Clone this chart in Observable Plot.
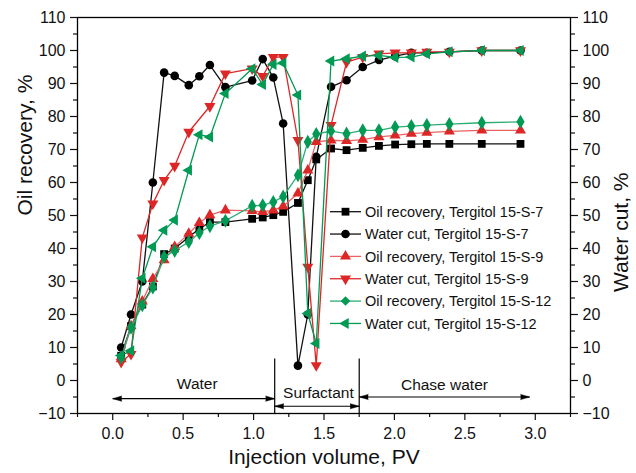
<!DOCTYPE html>
<html><head><meta charset="utf-8">
<script src="https://cdn.jsdelivr.net/npm/d3@7"></script>
<script src="https://cdn.jsdelivr.net/npm/@observablehq/plot@0.6"></script>
<style>
body{margin:0;background:#fff;}
#wrap{position:relative;width:636px;height:473px;overflow:hidden;}
#wrap svg{position:absolute;left:0;top:0;}
</style></head><body><div id="wrap"></div>
<script>
// Injection volume (PV) at which samples were taken
const pv = [0.06, 0.13, 0.21, 0.285, 0.365, 0.44, 0.54, 0.615, 0.69, 0.8, 0.99, 1.065, 1.14, 1.21, 1.315, 1.385, 1.445, 1.55, 1.66, 1.775, 1.89, 2.005, 2.12, 2.23, 2.39, 2.62, 2.895];
// Tergitol 15-S-7
const oilS7 = [7.5, 16.5, 23, 28.5, 38.3, 40, 43.5, 46, 48, 48, 49, 49.4, 50.1, 51.1, 53.8, 60.7, 67, 70.3, 69.8, 70.5, 71.1, 71.5, 71.6, 71.7, 71.7, 71.7, 71.7];
const wcS7 = [10, 20, 30, 60, 93.3, 92.3, 89.5, 92.2, 95.6, 88.9, 90.9, 97.4, 91.8, 77.9, 4.5, 20, 67.8, 89, 91, 95, 97.1, 98.3, 99.3, 99.3, 99.6, 100, 100];
// Tergitol 15-S-9
const oilS9 = [6.5, 16.5, 24, 30.8, 36.5, 40.5, 44.5, 47.8, 50.1, 51.6, 51.4, 51.1, 51.6, 52.8, 56.7, 63.7, 72.3, 72.8, 72.6, 73, 73.8, 74.3, 74.8, 75.1, 75.5, 75.8, 75.8];
const wcS9 = [5.6, 8, 43.3, 53.6, 60.7, 65, 75.3, null, 83.1, 93, 94.5, 92.2, 98, 98, 72.8, 34.4, 4.6, 77.4, 96.5, 98, 99, 99.3, 99.3, 99.6, 99.6, 100, 100];
// Tergitol 15-S-12
const oilS12 = [7, 16, 22.8, 28.2, 37.5, 39.3, 42, 44.7, 46.8, 48.4, 52.9, 53.1, 54.1, 55.7, 62.2, 72.3, 74.7, 75.6, 74.8, 75.8, 75.8, 76.8, 77.1, 77.4, 77.7, 78.1, 78.4];
const wcS12 = [7.6, 9, 31, 40.5, 45.5, 48.6, 63.7, 74.5, 73.8, 87, 94.5, 89.7, 95.8, 96.2, 86.5, 20.3, 11.2, 96.8, 97.5, 98.3, 98.5, 97.9, 98, 99, 99.6, 100, 100];

const seriesLabels = ["Oil recovery, Tergitol 15-S-7", "Water cut, Tergitol 15-S-7", "Oil recovery, Tergitol 15-S-9", "Water cut, Tergitol 15-S-9", "Oil recovery, Tergitol 15-S-12", "Water cut, Tergitol 15-S-12"];
const seriesValues = [oilS7, wcS7, oilS9, wcS9, oilS12, wcS12];

// Axis ticks
const xTicks = [0, 0.5, 1, 1.5, 2, 2.5, 3];
const xMinor = [-0.25, 0.25, 0.75, 1.25, 1.75, 2.25, 2.75, 3.25];
const yTicks = [-10, 0, 10, 20, 30, 40, 50, 60, 70, 80, 90, 100, 110];
const yMinor = [-5, 5, 15, 25, 35, 45, 55, 65, 75, 85, 95, 105];

// Injection phases
const phaseNames = ["Water", "Surfactant", "Chase water"];
const phaseStart = [0, 1.15, 1.75];
const phaseEnd = [1.15, 1.75, 2.96];
const phaseArrowY = [-5.5, -7.8, -5];
const phaseLabelX = [0.6, 1.46, 2.355];
const phaseLabelY = [-1.2, -3.9, -1.3];
const phaseBounds = [1.15, 1.75];
const phaseBoundTop = 6.5;

// styles
const RED = "#dd2626", RED_L = "#ec6262", GRN = "#009a55", GRN_L = "#2aad72";
const styles = [
  {symbol: "square", rotate: 0, r: 4.4, fill: "#000", line: "#111"},
  {symbol: "circle", rotate: 0, r: 4.3, fill: "#000", line: "#111"},
  {symbol: "triangle", rotate: 0, r: 4.1, fill: RED, line: RED_L},
  {symbol: "triangle", rotate: 180, r: 4.1, fill: RED, line: RED},
  {symbol: "diamond", rotate: 0, r: 4.3, fill: GRN, line: GRN_L},
  {symbol: "triangle", rotate: -90, r: 4.1, fill: GRN, line: GRN}
];

const FONT = "'Liberation Sans', Arial, Helvetica, sans-serif";

const seriesData = seriesValues.map((vals, i) =>
  pv.map((x, j) => ({x, y: vals[j]})).filter(d => d.y != null));

const marks = [];
// axes
marks.push(
  Plot.axisX(xTicks, {tickSize: 7, tickPadding: 7, tickFormat: d3.format(".1f"), fontSize: 16, label: null, strokeWidth: 1.2}),
  Plot.axisX(xMinor, {tickSize: 4, tickFormat: () => "", label: null, strokeWidth: 1.2}),
  Plot.axisY(yTicks, {anchor: "left", tickSize: 7, tickPadding: 5, fontSize: 16, label: null, strokeWidth: 1.2}),
  Plot.axisY(yMinor, {anchor: "left", tickSize: 4, tickFormat: () => "", label: null, strokeWidth: 1.2}),
  Plot.axisY(yTicks, {anchor: "right", tickSize: 7, tickPadding: 5, fontSize: 16, label: null, strokeWidth: 1.2}),
  Plot.axisY(yMinor, {anchor: "right", tickSize: 4, tickFormat: () => "", label: null, strokeWidth: 1.2}),
  Plot.frame({stroke: "#000", strokeWidth: 1.3})
);
// phase annotations
const phases = phaseNames.map((name, i) => ({name, x1: phaseStart[i], x2: phaseEnd[i], y: phaseArrowY[i], lx: phaseLabelX[i], ly: phaseLabelY[i]}));
marks.push(
  Plot.ruleX(phaseBounds, {y1: phaseBoundTop, y2: -10, stroke: "#000", strokeWidth: 1.2}),
  Plot.link(phases, {x1: "x1", x2: "x2", y1: "y", y2: "y", stroke: "#000", strokeWidth: 1.2}),
  Plot.vector(phases, {x: "x1", y: "y", rotate: -90, length: 9, r: 2.6, shape: "spike", anchor: "end", fill: "#000", stroke: "#000", strokeWidth: 0.5}),
  Plot.vector(phases, {x: "x2", y: "y", rotate: 90, length: 9, r: 2.6, shape: "spike", anchor: "end", fill: "#000", stroke: "#000", strokeWidth: 0.5}),
  Plot.text(phases, {x: "lx", y: "ly", text: "name", fontSize: 15.5, fill: "#111", fontFamily: FONT})
);
// series
seriesData.forEach((data, i) => {
  const s = styles[i];
  marks.push(Plot.line(data, {x: "x", y: "y", stroke: s.line, strokeWidth: 1.3}));
  marks.push(Plot.dot(data, {x: "x", y: "y", symbol: s.symbol, r: s.r, rotate: s.rotate, fill: s.fill, stroke: "none"}));
});
// axis titles
marks.push(
  Plot.text(["Oil recovery, %"], {frameAnchor: "left", dx: -52, rotate: -90, fontSize: 21, fill: "#111", fontFamily: FONT}),
  Plot.text(["Water cut, %"], {frameAnchor: "right", dx: 51, dy: -43, rotate: -90, fontSize: 21, fill: "#111", fontFamily: FONT}),
  Plot.text(["Injection volume, PV"], {frameAnchor: "bottom", dy: 50, fontSize: 21, fill: "#111", fontFamily: FONT})
);

const chart = Plot.plot({
  width: 636, height: 473,
  marginLeft: 77, marginRight: 66, marginTop: 17, marginBottom: 60,
  x: {domain: [-0.25, 3.25]},
  y: {domain: [-10, 110]},
  style: {fontFamily: FONT, color: "#111", background: "#fff", overflow: "visible"},
  marks
});
document.getElementById("wrap").appendChild(chart);

// Legend overlay
const leg = d3.select("#wrap").append("svg").attr("width", 636).attr("height", 473)
  .style("pointer-events", "none");
const symMap = {square: d3.symbolSquare, circle: d3.symbolCircle, triangle: d3.symbolTriangle, diamond: d3.symbolDiamond2};
seriesLabels.forEach((lab, i) => {
  const s = styles[i];
  const y = 211.7 + i * 22.35;
  const g = leg.append("g");
  g.append("line").attr("x1", 330).attr("x2", 361).attr("y1", y).attr("y2", y).attr("stroke", s.line).attr("stroke-width", 1.3);
  g.append("path").attr("d", d3.symbol(symMap[s.symbol], Math.PI * s.r * s.r)())
    .attr("transform", `translate(345.5,${y}) rotate(${s.rotate})`).attr("fill", s.fill);
  g.append("text").attr("x", 365).attr("y", y).attr("dy", "0.36em").attr("font-family", FONT)
    .attr("font-size", 14.5).attr("fill", "#111").text(lab);
});
</script></body></html>
